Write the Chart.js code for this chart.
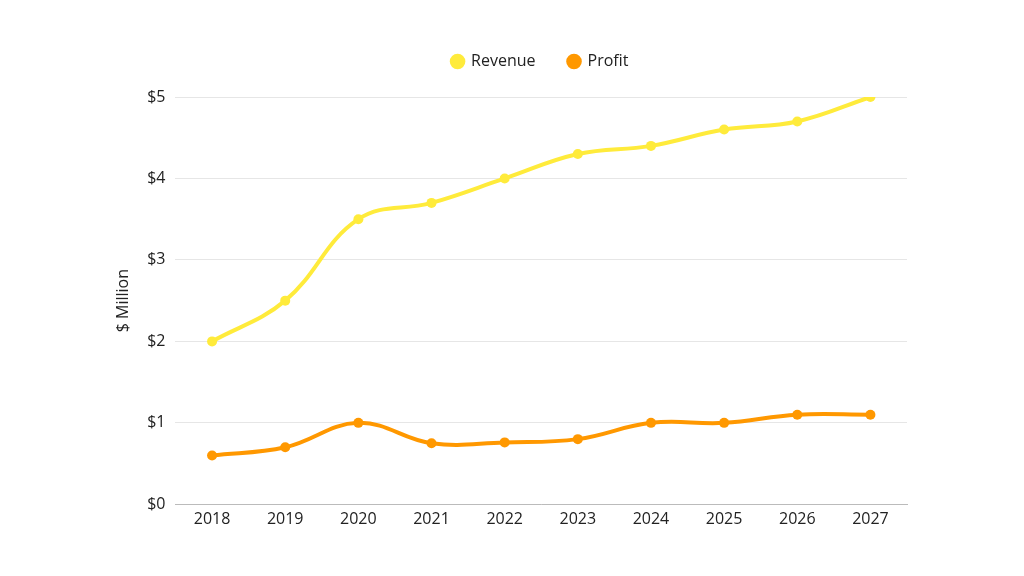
<!DOCTYPE html>
<html><head><meta charset="utf-8">
<script src="https://cdn.jsdelivr.net/npm/chart.js@4"></script>
<style>html,body{margin:0;padding:0;background:#fff}#wrap{width:1024px;height:576px}</style>
</head><body><div id="wrap"><canvas id="c"></canvas></div>
<script>
const years = ["2018","2019","2020","2021","2022","2023","2024","2025","2026","2027"];
const revenue = [2.0, 2.5, 3.5, 3.7, 4.0, 4.3, 4.4, 4.6, 4.7, 5.0];
const profit = [0.6, 0.7, 1.0, 0.75, 0.76, 0.8, 1.0, 1.0, 1.1, 1.1];
const font = "'Open Sans', Lato, sans-serif";
Chart.defaults.font.family = font;
Chart.defaults.color = "#222";
const legendMargin = {id:'legendMargin',
  beforeInit(chart){
    const f = chart.legend.fit;
    chart.legend.fit = function(){ f.bind(chart.legend)(); this.height += 17.5; };
  },
  afterLayout(chart){
    const a = chart.chartArea;
    chart.legend.left = a.left - 1;
    chart.legend.right = a.right - 1;
  }
};
new Chart(document.getElementById('c'), {
  type: 'line',
  data: { labels: years, datasets: [
    {label:'Revenue', data: revenue, borderColor:'#FFEB3B', backgroundColor:'#FFEB3B', borderWidth:4, tension:0.4, pointRadius:5, pointBorderWidth:0, pointHoverRadius:5},
    {label:'Profit', data: profit, borderColor:'#FF9800', backgroundColor:'#FF9800', borderWidth:4, tension:0.4, pointRadius:5, pointBorderWidth:0, pointHoverRadius:5}
  ]},
  options: {
    responsive:true, maintainAspectRatio:false, animation:false,
    layout:{padding:{left:110, right:117, top:20.5, bottom:40.5}},
    plugins:{legend:{position:'top', labels:{usePointStyle:true, pointStyle:'circle', boxWidth:11, boxHeight:11, padding:33, font:{size:16}, color:'#222'}}, tooltip:{enabled:false}},
    scales:{
      x:{offset:true, grid:{display:false, drawTicks:false}, border:{color:'#bbb'}, ticks:{padding:6, font:{size:16}, color:'#222'}},
      y:{min:0, max:5, grid:{color:'#e6e6e6', drawTicks:false}, border:{display:false}, ticks:{stepSize:1, padding:10, font:{size:16}, color:'#222', callback:v=>'$'+v},
         title:{display:true, text:'$ Million', font:{size:16}, color:'#222'}}
    }
  },
  plugins:[legendMargin]
});
</script></body></html>
